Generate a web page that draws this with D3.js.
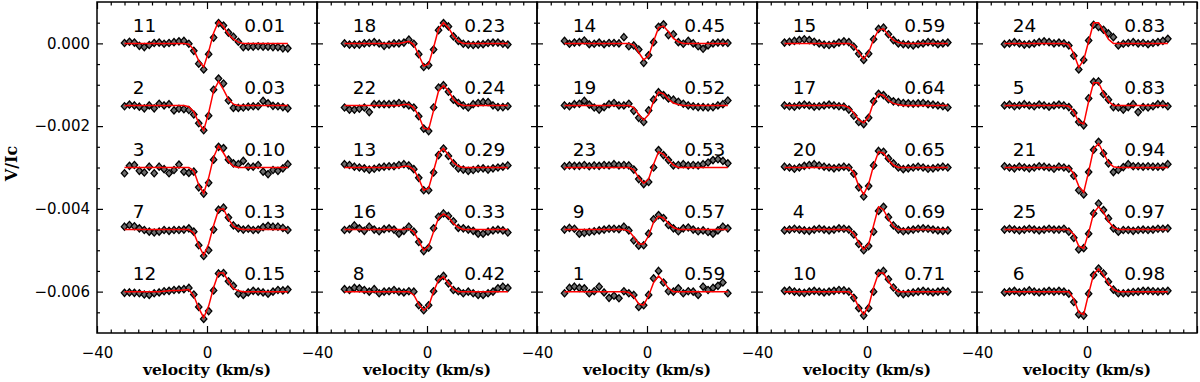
<!DOCTYPE html>
<html>
<head>
<meta charset="utf-8">
<script src="https://cdn.jsdelivr.net/npm/d3@7"></script>
<style>
  html, body { margin: 0; padding: 0; background: #fff; }
  svg { display: block; }
  .tick text { font-family: "DejaVu Sans", sans-serif; font-size: 15px; fill: #000; }
  .tick line { stroke: #000; stroke-width: 1.2px; }
</style>
</head>
<body>
<script>
// velocity grid of the LSD profiles (km/s)
const velocity = [-30, -28.2, -26.4, -24.6, -22.8, -21, -19.2, -17.4, -15.6, -13.8, -12, -10.2,
  -8.4, -6.6, -4.8, -3, -1.2, 0.6, 2.4, 4.2, 6, 7.8, 9.6, 11.4, 13.2,
  15, 16.8, 18.6, 20.4, 22.2, 24, 25.8, 27.6, 29.4];

// V/Ic values, in units of 1e-5
const obs11 = [1, 4, 2, -6, -9, -4, 1, 2, -1, 1, 3, 5, 6, -1, -18, -49, -63, -26, 14, 49, 43, 26, 16, 4, -9, -8, -8, -7, -8, -8, -9, -9, -12, -12];
const fit11 = [0, 0, 0, 0, 0, 0, 0, 0, 0, 0, 0, 0, 0, -2, -15, -42, -57, -20, 25, 53, 40, 22, 10, 3, 0, 0, 0, 0, 0, 0, 0, 0, 0, 0];
const obs2 = [-2, 2, 0, -3, -7, 0, -7, 4, 0, 3, -12, -8, -9, -11, -22, -43, -60, -25, 38, 65, 53, 12, -6, -6, -5, -3, -2, -2, 11, 5, -1, -2, -4, -7];
const fit2 = [0, 0, 0, 0, 0, 0, 0, 0, 0, 0, 0, 0, 0, -3, -15, -42, -60, -18, 35, 58, 38, 15, 3, 0, 0, 0, 0, 0, 0, 0, 0, 0, 0, 0];
const obs3 = [-14, 4, 6, -8, -12, 2, -14, 2, -4, -14, -6, 7, -10, -13, -10, -48, -63, -37, 19, 50, 47, 19, 10, 8, 16, 2, 2, 6, -10, -16, -6, -8, -2, 8];
const fit3 = [0, 0, 0, 0, 0, 0, 0, 0, 0, 0, 0, 0, 0, 0, -8, -42, -62, -25, 25, 52, 35, 15, 3, 0, 0, 0, 0, 0, 0, 0, 0, 0, 0, 0];
const obs7 = [7, 11, 8, 3, -1, -5, -7, -5, -1, -3, -1, -1, 0, 3, -5, -38, -64, -50, 0, 48, 53, 29, 10, 3, 0, 2, -1, 0, 6, 9, 7, 7, 4, -1];
const fit7 = [0, 0, 0, 0, 0, 0, 0, 0, 0, 0, 0, 0, 0, 0, -8, -38, -62, -35, 10, 48, 50, 25, 8, 2, 0, 0, 0, 0, 0, 0, 0, 0, 0, 0];
const obs12 = [-3, -2, -3, -4, -7, -8, -4, -2, 1, 2, 4, 5, 6, 9, -7, -37, -66, -47, 3, 44, 45, 25, 14, -5, -8, -2, 2, 0, -2, -5, 0, 4, 3, 5];
const fit12 = [0, 0, 0, 0, 0, 0, 0, 0, 1, 2, 3, 3, 4, 5, -10, -40, -63, -35, 10, 45, 45, 25, 8, 2, 0, 0, 0, 0, 0, 0, 0, 0, 0, 0];

const obs18 = [0, -3, -3, -3, 0, 1, 3, 0, -6, -3, 0, 0, 2, 9, -1, -26, -57, -53, -15, 32, 49, 41, 17, 6, -1, -3, -4, -3, -2, 1, 2, 2, -1, -3];
const fit18 = [0, 0, 0, 0, 0, 0, 0, 0, 0, 0, 0, 0, 2, 5, -3, -28, -55, -50, -10, 35, 50, 38, 18, 5, 0, 0, 0, 0, 0, 0, 0, 0, 0, 0];
const obs22 = [-5, -10, -10, -8, -5, -16, 3, 3, 3, 3, 4, 6, 3, 0, -5, -26, -56, -62, -5, 43, 49, 33, 14, 6, 0, -5, 3, 6, 8, 8, 0, -4, -4, -2];
const fit22 = [0, 0, 0, 0, 0, 0, 0, 0, 0, 0, 0, 0, 2, 2, -5, -25, -55, -58, -12, 35, 48, 35, 15, 4, 0, 0, 0, 0, 0, 0, 0, 0, 0, 0];
const obs13 = [8, 6, 2, 0, -2, -5, -3, 0, 2, 3, 3, 6, 8, 5, -4, -25, -55, -55, -12, 30, 46, 28, 10, -2, -5, -8, -6, -3, -2, -5, -2, 0, 2, 5];
const fit13 = [0, 0, 0, 0, 0, 0, 0, 0, 0, 0, 0, 0, 3, 3, -5, -27, -55, -50, -8, 35, 46, 30, 12, 3, 0, 0, 0, 0, 0, 0, 0, 0, 0, 0];
const obs16 = [-1, 1, 10, 3, -3, 7, 0, -4, 1, 3, 0, -10, -3, 7, -5, -30, -52, -44, 3, 31, 39, 33, 20, 4, 3, 0, -3, -10, -10, -5, -2, 0, -2, -7];
const fit16 = [0, 0, 0, 0, 0, 0, 0, 0, 0, 0, 0, 0, 0, 2, -5, -28, -50, -40, -5, 28, 38, 30, 15, 5, 0, 0, 0, 0, 0, 0, 0, 0, 0, 0];
const obs8 = [6, 4, 9, 8, 4, 0, 6, -4, 0, 1, 4, 0, -2, 1, 0, -33, -45, -33, 1, 30, 38, 20, 4, 1, -4, 0, -4, -8, -8, -4, 0, 8, 12, 9];
const fit8 = [0, 0, 0, 0, 0, 0, 0, 0, 0, 0, 0, 0, 0, 0, -8, -30, -45, -35, 0, 28, 36, 20, 6, 0, 0, 0, 0, 0, 0, 0, 0, 0, 0, 0];

const obs14 = [6, -1, 2, 3, 7, -2, -1, 2, -2, 1, 1, 0, 15, -7, -5, -15, -47, -29, 3, 40, 46, 20, 22, 3, -1, 6, 0, -7, -13, -5, 0, 2, 2, 1];
const fit14 = [0, 0, 0, 0, 0, 0, 0, 0, 0, 0, 0, 0, 0, 0, -4, -22, -40, -30, 5, 38, 42, 28, 12, 4, 0, 0, 0, 0, 0, 0, 0, 0, 0, 0];
const obs19 = [0, -2, 3, 4, 11, 2, -5, -10, -4, 3, 6, 0, 0, 4, -13, -30, -40, -12, 14, 32, 25, 17, 14, 9, 4, 0, -2, -4, -4, -5, -4, 0, 3, 12];
const fit19 = [0, 0, 0, 0, 0, 0, 0, 0, 0, 0, 0, 0, 0, 0, -5, -22, -35, -22, 10, 32, 28, 15, 6, 2, 0, 0, 0, 0, 0, 0, 0, 0, 0, 0];
const obs23 = [3, 5, 4, 4, 6, 3, 5, 4, 6, 5, 8, 5, 6, 5, -5, -28, -40, -35, 0, 42, 30, 18, 5, 6, 8, 5, 6, 5, 8, 12, 18, 20, 16, 10];
const fit23 = [0, 0, 0, 0, 0, 0, 0, 0, 0, 0, 0, 0, 0, 0, -5, -25, -38, -28, 8, 38, 32, 18, 6, 0, 0, 0, 0, 0, 0, 0, 0, 0, 0, 0];
const obs9 = [0, 4, 2, -10, -8, -6, -4, -2, 0, 2, 2, 1, 7, -2, -26, -39, -38, -10, 25, 35, 28, 11, 3, -4, 3, 5, 0, -4, -2, -6, -10, -2, 7, 3];
const fit9 = [0, 0, 0, 0, 0, 0, 0, 0, 0, 0, 0, 0, 0, -3, -18, -35, -35, -15, 18, 32, 28, 15, 5, 0, 0, 0, 0, 0, 0, 0, 0, 0, 0, 0];
const obs1 = [-4, 9, 12, 9, 8, -4, 1, 12, -2, -15, -10, -16, 1, -4, -8, -37, -33, -8, 32, 50, 22, 1, 0, 8, -4, 1, 0, -8, 12, 4, 9, 14, 22, -4];
const fit1 = [0, 0, 0, 0, 0, 0, 0, 0, 0, 0, 0, 0, 0, -2, -12, -30, -32, -10, 22, 38, 25, 8, 0, 0, 0, 0, 0, 0, 0, 0, 0, 0, 0, 0];

const obs15 = [2, 4, 6, 8, 10, 8, 4, 0, -3, -4, -2, 2, 5, 3, -8, -25, -40, -25, 10, 35, 38, 22, 8, 0, -2, -3, -5, -2, 0, 3, 2, -2, 0, 2];
const fit15 = [0, 0, 0, 0, 0, 0, 0, 0, 0, 0, 0, 0, 0, 0, -6, -22, -38, -22, 10, 32, 35, 20, 8, 2, 0, 0, 0, 0, 0, 0, 0, 0, 0, 0];
const obs17 = [0, -2, -3, 0, 2, 0, -3, -2, 0, 2, 0, -2, -3, -10, -25, -40, -45, -30, 10, 28, 25, 15, 10, 8, 6, 5, 4, 5, 6, 3, 2, 0, -2, -5];
const fit17 = [0, 0, 0, 0, 0, 0, 0, 0, 0, 0, 0, 0, 0, -5, -18, -35, -42, -28, 8, 28, 24, 12, 5, 2, 0, 0, 0, 0, 0, 0, 0, 0, 0, 0];
const obs20 = [2, 0, -3, 0, 4, 6, 8, 5, 2, 0, -2, 0, 2, 0, -15, -48, -70, -45, 5, 40, 38, 22, 10, 0, -4, -2, 0, 2, 0, -3, -2, 0, 2, 0];
const fit20 = [0, 0, 0, 0, 0, 0, 0, 0, 0, 0, 0, 0, 0, 0, -12, -45, -65, -40, 5, 38, 35, 18, 6, 0, 0, 0, 0, 0, 0, 0, 0, 0, 0, 0];
const obs4 = [-2, 0, 2, 0, -2, -3, 0, 2, 0, -2, 0, 3, 2, 0, -12, -35, -50, -40, -5, 45, 55, 30, 10, 0, -4, -2, 0, 2, 3, 2, 0, -2, -3, -2];
const fit4 = [0, 0, 0, 0, 0, 0, 0, 0, 0, 0, 0, 0, 0, 0, -10, -32, -48, -35, 10, 55, 48, 25, 8, 0, 0, 0, 0, 0, 0, 0, 0, 0, 0, 0];
const obs10 = [2, 3, 0, -2, -3, 0, 2, 0, -2, 0, 2, 4, 3, 0, -15, -40, -58, -40, 0, 45, 50, 30, 10, -3, -6, -4, -2, 0, 2, 0, -2, 0, 2, 0];
const fit10 = [0, 0, 0, 0, 0, 0, 0, 0, 0, 0, 0, 0, 0, 0, -12, -38, -55, -35, 10, 45, 45, 25, 8, 0, 0, 0, 0, 0, 0, 0, 0, 0, 0, 0];

const obs24 = [-2, 0, 3, 0, -3, -2, 0, 3, 5, 3, 0, 2, 0, -5, -30, -63, -40, 7, 45, 40, 33, 24, 15, -5, -1, 1, 3, 0, 1, -2, 1, 3, 6, 11];
const fit24 = [0, 0, 0, 0, 0, 0, 0, 0, 0, 0, 0, 0, 0, -3, -25, -58, -40, 5, 50, 50, 30, 10, 0, 0, 0, 0, 0, 0, 0, 0, 0, 0, 0, 0];
const obs5 = [0, 2, -2, 0, 3, 0, -2, 2, 0, -3, 0, 2, 0, -4, -18, -40, -48, 17, 57, 58, 27, 14, -4, -5, -10, -4, 3, -16, -4, -5, -2, 3, 3, -2];
const fit5 = [0, 0, 0, 0, 0, 0, 0, 0, 0, 0, 0, 0, 0, -2, -15, -40, -45, 10, 55, 55, 30, 10, 0, 0, 0, 0, 0, 0, 0, 0, 0, 0, 0, 0];
const obs21 = [3, 0, -2, 2, 0, -2, 0, 3, 2, 0, -3, 2, 0, -3, -20, -55, -65, -11, 43, 62, 34, 10, -11, -6, 1, 8, 3, 3, 2, 3, 2, 2, 2, 8];
const fit21 = [0, 0, 0, 0, 0, 0, 0, 0, 0, 0, 0, 0, 0, 0, -15, -45, -60, -10, 45, 58, 35, 12, 2, 0, 0, 0, 0, 0, 0, 0, 0, 0, 0, 0];
const obs25 = [0, 2, 0, -2, 0, 2, 0, -2, 0, 2, 0, 0, 2, -5, -20, -48, -45, -10, 39, 63, 47, 27, 3, -5, -1, -1, -3, -1, 0, -1, 0, 2, 2, 3];
const fit25 = [0, 0, 0, 0, 0, 0, 0, 0, 0, 0, 0, 0, 0, 0, -12, -40, -45, -8, 40, 55, 42, 20, 5, 0, 0, 0, 0, 0, 0, 0, 0, 0, 0, 0];
const obs6 = [-2, 0, 2, -2, 0, 3, 0, -2, 0, 2, 0, 2, 0, -5, -25, -55, -58, -5, 40, 56, 44, 24, 5, -4, -4, -3, -1, 0, 2, 2, 1, 0, 1, 2];
const fit6 = [0, 0, 0, 0, 0, 0, 0, 0, 0, 0, 0, 0, 0, 0, -18, -50, -55, -5, 42, 55, 40, 20, 5, 0, 0, 0, 0, 0, 0, 0, 0, 0, 0, 0];

// which spectra go in which panel, top to bottom, and their rotation phases
const panelSpectra = [[11, 2, 3, 7, 12], [18, 22, 13, 16, 8], [14, 19, 23, 9, 1], [15, 17, 20, 4, 10], [24, 5, 21, 25, 6]];
const panelPhases = [['0.01', '0.03', '0.10', '0.13', '0.15'], ['0.23', '0.24', '0.29', '0.33', '0.42'],
  ['0.45', '0.52', '0.53', '0.57', '0.59'], ['0.59', '0.64', '0.65', '0.69', '0.71'], ['0.83', '0.83', '0.94', '0.97', '0.98']];

const xMajor = [-40, 0, 40];
const xMinor = [-35, -30, -25, -20, -15, -10, -5, 5, 10, 15, 20, 25, 30, 35];
const yMajor = [0, -0.002, -0.004, -0.006];
const yMinor = [0.0005, -0.0005, -0.001, -0.0015, -0.0025, -0.003, -0.0035, -0.0045, -0.005, -0.0055, -0.0065];

const observed = {1: obs1, 2: obs2, 3: obs3, 4: obs4, 5: obs5, 6: obs6, 7: obs7, 8: obs8, 9: obs9, 10: obs10,
  11: obs11, 12: obs12, 13: obs13, 14: obs14, 15: obs15, 16: obs16, 17: obs17, 18: obs18, 19: obs19, 20: obs20,
  21: obs21, 22: obs22, 23: obs23, 24: obs24, 25: obs25};
const fitted = {1: fit1, 2: fit2, 3: fit3, 4: fit4, 5: fit5, 6: fit6, 7: fit7, 8: fit8, 9: fit9, 10: fit10,
  11: fit11, 12: fit12, 13: fit13, 14: fit14, 15: fit15, 16: fit16, 17: fit17, 18: fit18, 19: fit19, 20: fit20,
  21: fit21, 22: fit22, 23: fit23, 24: fit24, 25: fit25};

const unit = 1e-5;
const offsetStep = -0.0015;

const svgSize = {width: 1200, height: 382};
const panel = {left: 97, width: 220, top: 2, bottom: 333};

const svg = d3.select('body').append('svg')
  .attr('width', svgSize.width)
  .attr('height', svgSize.height);

svg.append('rect').attr('width', svgSize.width).attr('height', svgSize.height).attr('fill', '#fff');

const y = d3.scaleLinear().domain([-0.007, 0.001]).range([panel.bottom, panel.top]);

const diamond = 'M0,-3.6L3.2,0L0,3.6L-3.2,0Z';

panelSpectra.forEach((ids, p) => {
  const x0 = panel.left + p * panel.width;
  const x = d3.scaleLinear().domain([-40, 40]).range([x0, x0 + panel.width]);
  const g = svg.append('g').attr('class', 'panel');

  // profiles
  ids.forEach((id, k) => {
    const off = offsetStep * k;
    const pts = velocity.map((v, i) => [v, observed[id][i] * unit + off]);
    const fit = velocity.map((v, i) => [v, fitted[id][i] * unit + off]);

    g.append('g').selectAll('path')
      .data(pts)
      .enter()
      .append('path')
      .attr('d', diamond)
      .attr('transform', d => `translate(${x(d[0])},${y(d[1])})`)
      .attr('fill', '#6e6e6e')
      .attr('stroke', '#000')
      .attr('stroke-width', 1.3);

    g.append('path')
      .datum(fit)
      .attr('fill', 'none')
      .attr('stroke', '#f00')
      .attr('stroke-width', 1.5)
      .attr('d', d3.line().x(d => x(d[0])).y(d => y(d[1])));

    g.append('text')
      .attr('x', x(-27))
      .attr('y', y(off + 0.000275))
      .style('font-family', '"DejaVu Sans", sans-serif')
      .style('font-size', '18.5px')
      .text(id);

    g.append('text')
      .attr('x', x(13.5))
      .attr('y', y(off + 0.000275))
      .style('font-family', '"DejaVu Sans", sans-serif')
      .style('font-size', '18.5px')
      .text(panelPhases[p][k]);
  });

  // axes, ticks pointing inward on all four sides
  const fmtX = d => (d === 40 ? '' : d3.format('d')(d));
  g.append('g').attr('transform', `translate(0,${panel.bottom})`)
    .call(d3.axisBottom(x).tickValues(xMajor).tickSize(-7).tickPadding(14).tickFormat(fmtX));
  g.append('g').attr('transform', `translate(0,${panel.bottom})`)
    .call(d3.axisBottom(x).tickValues(xMinor).tickSize(-3.5).tickFormat(''));
  g.append('g').attr('transform', `translate(0,${panel.top})`)
    .call(d3.axisTop(x).tickValues(xMajor).tickSize(-7).tickFormat(''));
  g.append('g').attr('transform', `translate(0,${panel.top})`)
    .call(d3.axisTop(x).tickValues(xMinor).tickSize(-3.5).tickFormat(''));

  g.append('g').attr('transform', `translate(${x0},0)`)
    .call(d3.axisLeft(y).tickValues(yMajor).tickSize(-6).tickPadding(7)
      .tickFormat(p === 0 ? d3.format('.3f') : ''));
  g.append('g').attr('transform', `translate(${x0},0)`)
    .call(d3.axisLeft(y).tickValues(yMinor).tickSize(-3).tickFormat(''));
  g.append('g').attr('transform', `translate(${x0 + panel.width},0)`)
    .call(d3.axisRight(y).tickValues(yMajor).tickSize(-6).tickFormat(''));
  g.append('g').attr('transform', `translate(${x0 + panel.width},0)`)
    .call(d3.axisRight(y).tickValues(yMinor).tickSize(-3).tickFormat(''));

  g.selectAll('.domain').remove();

  g.append('rect')
    .attr('x', x0)
    .attr('y', panel.top)
    .attr('width', panel.width)
    .attr('height', panel.bottom - panel.top)
    .attr('fill', 'none')
    .attr('stroke', '#000')
    .attr('stroke-width', 1.5);

  svg.append('text')
    .attr('x', x(0))
    .attr('y', 375)
    .style('text-anchor', 'middle')
    .style('font-family', '"DejaVu Serif", serif')
    .style('font-weight', 'bold')
    .style('font-size', '15.5px')
    .text('velocity (km/s)');
});

svg.append('text')
  .attr('transform', `translate(17,${(panel.top + panel.bottom) / 2 - 4}) rotate(-90)`)
  .style('text-anchor', 'middle')
  .style('font-family', '"DejaVu Serif", serif')
  .style('font-weight', 'bold')
  .style('font-size', '16px')
  .text('V/Ic');
</script>
</body>
</html>
